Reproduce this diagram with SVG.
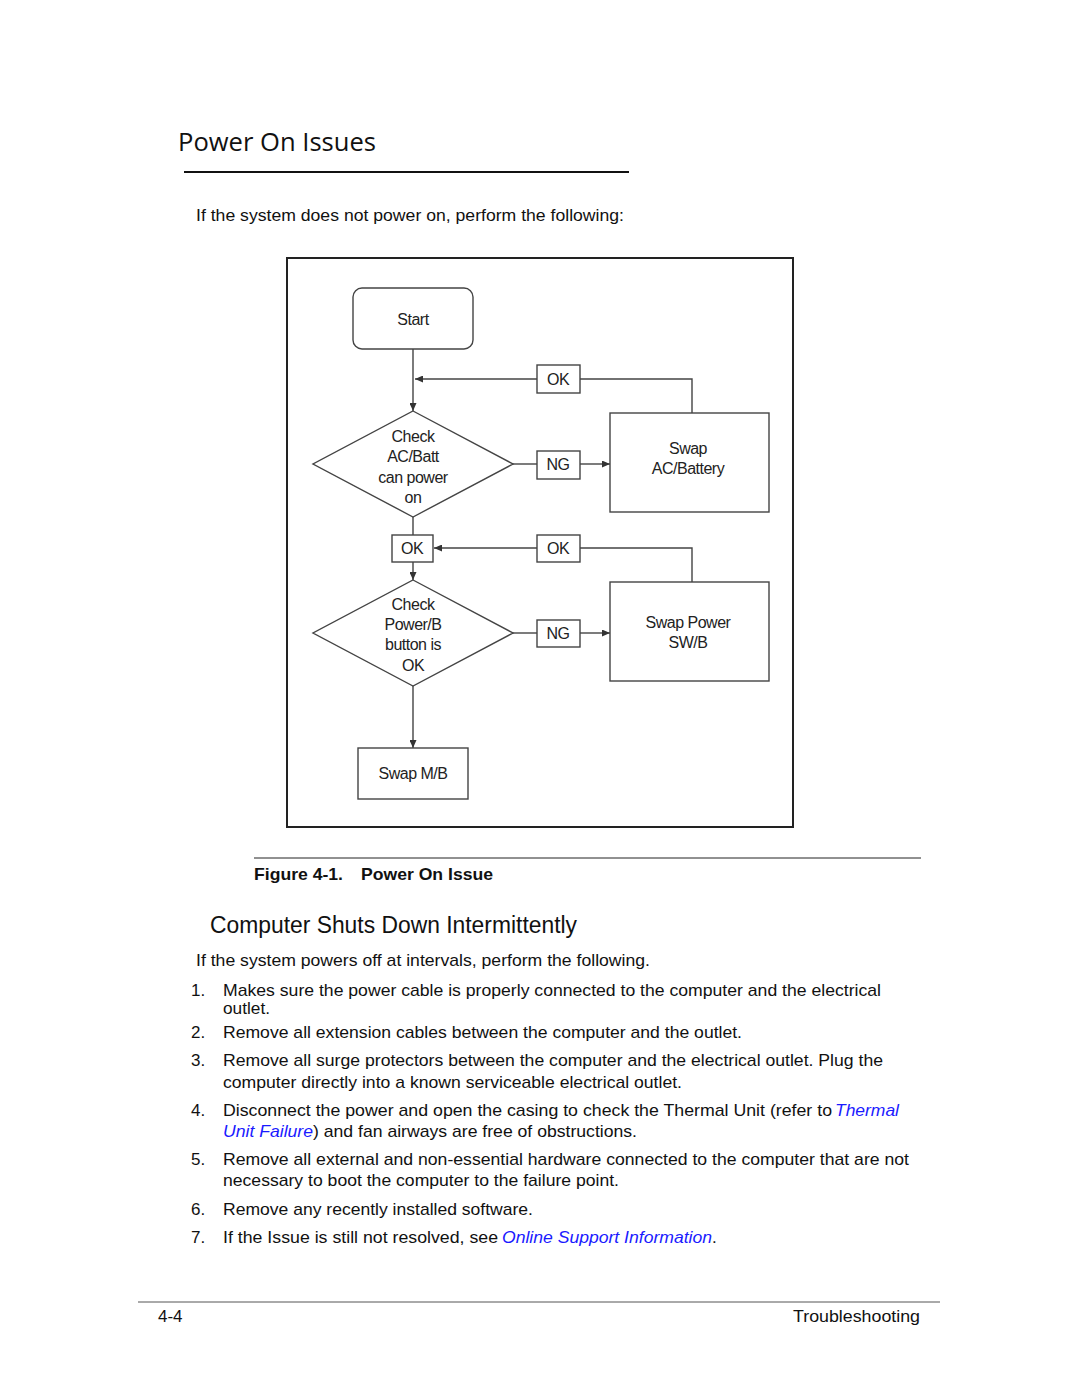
<svg xmlns="http://www.w3.org/2000/svg" width="1080" height="1397" viewBox="0 0 1080 1397">
<defs>
<marker id="arr" markerUnits="userSpaceOnUse" markerWidth="8" markerHeight="7" refX="8" refY="3.5" orient="auto">
<path d="M0,0 L8,3.5 L0,7 z" fill="#333"/>
</marker>
<style>
.body{font-family:"Liberation Sans",Arial,sans-serif;font-size:17px;fill:#111}
.link{font-style:italic;fill:#1a1aff}
.fc{font-family:"Liberation Sans",Arial,sans-serif;font-size:16px;fill:#222;text-anchor:middle;letter-spacing:-0.5px}
.shape{fill:#fff;stroke:#444;stroke-width:1.4}
.conn{fill:none;stroke:#444;stroke-width:1.4}
</style>
</defs>
<rect width="1080" height="1397" fill="#fff"/>

<text x="178" y="151" font-family="'Open Sans','Noto Sans',sans-serif" font-size="25" fill="#111" textLength="198" lengthAdjust="spacingAndGlyphs">Power On Issues</text>
<line x1="184" y1="172" x2="629" y2="172" stroke="#111" stroke-width="2"/>
<text class="body" x="196" y="221" textLength="428" lengthAdjust="spacingAndGlyphs">If the system does not power on, perform the following:</text>

<rect x="287" y="258" width="506" height="569" fill="none" stroke="#222" stroke-width="2"/>

<g id="connectors">
<path class="conn" d="M413,349 V411" marker-end="url(#arr)"/>
<path class="conn" d="M537,379 H415" marker-end="url(#arr)"/>
<path class="conn" d="M580,379 H692 V413"/>
<path class="conn" d="M513,464 H537"/>
<path class="conn" d="M580,464 H610" marker-end="url(#arr)"/>
<path class="conn" d="M413,517 V535"/>
<path class="conn" d="M413,562 V580" marker-end="url(#arr)"/>
<path class="conn" d="M537,548 H434" marker-end="url(#arr)"/>
<path class="conn" d="M580,548 H692 V582"/>
<path class="conn" d="M513,633 H537"/>
<path class="conn" d="M580,633 H610" marker-end="url(#arr)"/>
<path class="conn" d="M413,686 V748" marker-end="url(#arr)"/>
</g>

<g id="start">
<rect class="shape" x="353" y="288" width="120" height="61" rx="9"/>
<text class="fc" x="413" y="325">Start</text>
</g>
<g id="ok1">
<rect class="shape" x="537" y="365" width="43" height="28"/>
<text class="fc" x="558" y="385">OK</text>
</g>
<g id="check-ac">
<polygon class="shape" points="413,411 513,464 413,517 313,464"/>
<text class="fc" x="413" y="442">Check</text>
<text class="fc" x="413" y="462">AC/Batt</text>
<text class="fc" x="413" y="483">can power</text>
<text class="fc" x="413" y="503">on</text>
</g>
<g id="ng1">
<rect class="shape" x="537" y="451" width="43" height="28"/>
<text class="fc" x="558" y="470">NG</text>
</g>
<g id="swap-ac">
<rect class="shape" x="610" y="413" width="159" height="99"/>
<text class="fc" x="688" y="454">Swap</text>
<text class="fc" x="688" y="474">AC/Battery</text>
</g>
<g id="ok2">
<rect class="shape" x="392" y="535" width="41" height="27"/>
<text class="fc" x="412" y="554">OK</text>
</g>
<g id="ok3">
<rect class="shape" x="537" y="535" width="43" height="27"/>
<text class="fc" x="558" y="554">OK</text>
</g>
<g id="check-power">
<polygon class="shape" points="413,580 513,633 413,686 313,633"/>
<text class="fc" x="413" y="610">Check</text>
<text class="fc" x="413" y="630">Power/B</text>
<text class="fc" x="413" y="650">button is</text>
<text class="fc" x="413" y="671">OK</text>
</g>
<g id="ng2">
<rect class="shape" x="537" y="620" width="43" height="27"/>
<text class="fc" x="558" y="639">NG</text>
</g>
<g id="swap-power">
<rect class="shape" x="610" y="582" width="159" height="99"/>
<text class="fc" x="688" y="628">Swap Power</text>
<text class="fc" x="688" y="648">SW/B</text>
</g>
<g id="swap-mb">
<rect class="shape" x="358" y="748" width="110" height="51"/>
<text class="fc" x="413" y="779">Swap M/B</text>
</g>

<line x1="254" y1="858" x2="921" y2="858" stroke="#222" stroke-width="1"/>
<text class="body" x="254" y="880" font-weight="bold" textLength="89" lengthAdjust="spacingAndGlyphs">Figure 4-1.</text>
<text class="body" x="361" y="880" font-weight="bold" textLength="132" lengthAdjust="spacingAndGlyphs">Power On Issue</text>

<text x="210" y="933" font-family="'Liberation Sans',Arial,sans-serif" font-size="23" fill="#111" textLength="367" lengthAdjust="spacingAndGlyphs">Computer Shuts Down Intermittently</text>
<text class="body" x="196" y="966" textLength="454" lengthAdjust="spacingAndGlyphs">If the system powers off at intervals, perform the following.</text>

<text class="body" x="191" y="996">1.</text>
<text class="body" x="223" y="996" textLength="658" lengthAdjust="spacingAndGlyphs">Makes sure the power cable is properly connected to the computer and the electrical</text>
<text class="body" x="223" y="1014" textLength="47" lengthAdjust="spacingAndGlyphs">outlet.</text>
<text class="body" x="191" y="1038">2.</text>
<text class="body" x="223" y="1038" textLength="519" lengthAdjust="spacingAndGlyphs">Remove all extension cables between the computer and the outlet.</text>
<text class="body" x="191" y="1066">3.</text>
<text class="body" x="223" y="1066" textLength="660" lengthAdjust="spacingAndGlyphs">Remove all surge protectors between the computer and the electrical outlet. Plug the</text>
<text class="body" x="223" y="1088" textLength="459" lengthAdjust="spacingAndGlyphs">computer directly into a known serviceable electrical outlet.</text>
<text class="body" x="191" y="1116">4.</text>
<text class="body" x="223" y="1116" textLength="609" lengthAdjust="spacingAndGlyphs">Disconnect the power and open the casing to check the Thermal Unit (refer to</text>
<text class="body link" x="835" y="1116" textLength="64" lengthAdjust="spacingAndGlyphs">Thermal</text>
<text class="body link" x="223" y="1137" textLength="90" lengthAdjust="spacingAndGlyphs">Unit Failure</text>
<text class="body" x="313" y="1137" textLength="324" lengthAdjust="spacingAndGlyphs">) and fan airways are free of obstructions.</text>
<text class="body" x="191" y="1165">5.</text>
<text class="body" x="223" y="1165" textLength="686" lengthAdjust="spacingAndGlyphs">Remove all external and non-essential hardware connected to the computer that are not</text>
<text class="body" x="223" y="1186" textLength="396" lengthAdjust="spacingAndGlyphs">necessary to boot the computer to the failure point.</text>
<text class="body" x="191" y="1215">6.</text>
<text class="body" x="223" y="1215" textLength="310" lengthAdjust="spacingAndGlyphs">Remove any recently installed software.</text>
<text class="body" x="191" y="1243">7.</text>
<text class="body" x="223" y="1243" textLength="275" lengthAdjust="spacingAndGlyphs">If the Issue is still not resolved, see</text>
<text class="body link" x="502" y="1243" textLength="210" lengthAdjust="spacingAndGlyphs">Online Support Information</text>
<text class="body" x="712" y="1243">.</text>

<line x1="138" y1="1302" x2="940" y2="1302" stroke="#555" stroke-width="1"/>
<text class="body" x="158" y="1322">4-4</text>
<text class="body" x="793" y="1322" textLength="127" lengthAdjust="spacingAndGlyphs">Troubleshooting</text>
</svg>
